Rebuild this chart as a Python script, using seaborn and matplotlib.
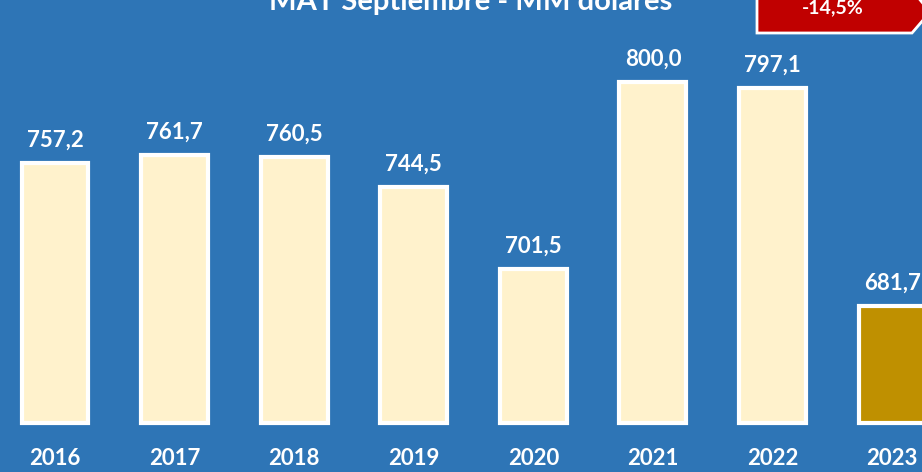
import matplotlib
matplotlib.use("Agg")
import matplotlib.pyplot as plt
import seaborn as sns
from matplotlib.patches import Polygon

years = ["2016", "2017", "2018", "2019", "2020", "2021", "2022", "2023"]
values = [757.2, 761.7, 760.5, 744.5, 701.5, 800.0, 797.1, 681.7]
bar_colors = ["#FFF2CC"] * 7 + ["#BF9000"]
title = "MAT Septiembre - MM dólares"
change_label = "-14,5%"
BASE = 620

sns.set_theme(style="white")
plt.rcParams["font.family"] = ["Lato", "DejaVu Sans"]

BG = "#2E75B6"
fig = plt.figure(figsize=(9.22, 4.72), dpi=100, facecolor=BG)
ax = fig.add_axes([0, 49 / 472, 1, 423 / 472])
ax.set_facecolor(BG)

sns.barplot(x=years, y=values, hue=years, palette=bar_colors, legend=False,
            width=0.56, edgecolor="white", linewidth=3, saturation=1, ax=ax)

for p in ax.patches:
    h = p.get_height()
    p.set_y(BASE)
    p.set_height(h - BASE)
    p.set_clip_on(False)

ax.set_xlim(-0.46, 7.25)
ax.set_ylim(BASE, BASE + 423 / 1.893)

for i, v in enumerate(values):
    ax.annotate(f"{v:.1f}".replace(".", ","), (i, v), xytext=(0, 9),
                textcoords="offset points", ha="center", va="bottom",
                color="white", fontsize=16, fontweight="bold")

ax.set_yticks([])
ax.tick_params(axis="x", length=0, pad=18, labelsize=16, labelcolor="white")
for lbl in ax.get_xticklabels():
    lbl.set_fontweight("bold")
ax.set_xlabel("")
ax.set_ylabel("")
for s in ax.spines.values():
    s.set_visible(False)

fig.text(0.51, 1 - 10 / 472, title, ha="center", va="baseline",
         color="white", fontsize=21, fontweight="bold")

W, H = 922, 472
pts = [(757, -10), (757, 33), (912, 33), (930, 12), (912, -10)]
poly = Polygon([(x / W, 1 - y / H) for x, y in pts], closed=True,
               transform=fig.transFigure, facecolor="#C00000",
               edgecolor="white", linewidth=2, clip_on=False)
fig.patches.append(poly)
fig.text(833 / W, 1 - 8 / H, change_label, ha="center", va="center",
         color="white", fontsize=14, fontweight="bold")

fig.savefig("out.png", dpi=100, facecolor=BG)
